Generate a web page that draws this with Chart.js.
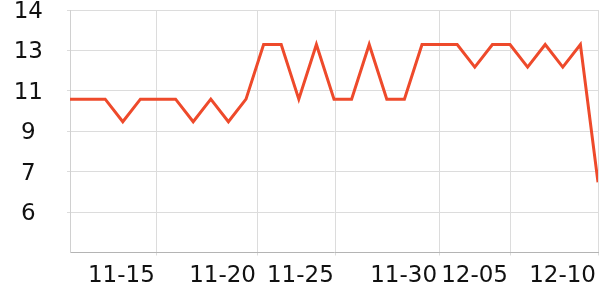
<!DOCTYPE html>
<html>
<head>
<meta charset="utf-8">
<script src="https://cdn.jsdelivr.net/npm/chart.js@4"></script>
<style>
  html, body { margin: 0; padding: 0; background: #fff; }
  #wrap { width: 600px; height: 300px; }
</style>
</head>
<body>
<div id="wrap"><canvas id="grafico"></canvas></div>
<script>
// values, one per point (evenly spaced)
const valores = [10.5, 10.5, 10.5, 9.55, 10.5, 10.5, 10.5, 9.55, 10.5, 9.55,
                 10.5, 12.8, 12.8, 10.5, 12.8, 10.5, 10.5, 12.8, 10.5, 10.5,
                 12.8, 12.8, 12.8, 11.85, 12.8, 12.8, 11.85, 12.8, 11.85, 12.8,
                 7.0];

// x tick positions (in point index units) and their date labels
const posDatas = [4.93, 10.68, 15.1, 20.97, 25, 30];
const rotulosDatas = ['11-15', '11-20', '11-25', '11-30', '12-05', '12-10'];

// y ticks (uneven labels on an even grid)
const posY = [14.25, 12.55, 10.85, 9.15, 7.45, 5.75];
const rotulosY = ['14', '13', '11', '9', '7', '6'];

const pontos = valores.map((v, i) => ({ x: i, y: v }));

const fonte = { family: 'DejaVu Sans', size: 23 };

new Chart(document.getElementById('grafico').getContext('2d'), {
    type: 'line',
    data: {
        datasets: [{
            data: pontos,
            borderColor: '#ee4a2b',
            borderWidth: 3,
            pointRadius: 0,
            tension: 0,
            fill: false
        }]
    },
    options: {
        responsive: true,
        maintainAspectRatio: false,
        animation: false,
        layout: { padding: 0 },
        plugins: { legend: { display: false }, tooltip: { enabled: false } },
        scales: {
            x: {
                type: 'linear',
                min: 0,
                max: 30,
                afterBuildTicks: s => { s.ticks = posDatas.map(v => ({ value: v })); },
                afterFit: s => {
                    s.height = 47.5;
                    s.paddingLeft = 0;
                    s.paddingRight = 2;
                },
                grid: { color: '#dcdcdc', tickLength: 3 },
                border: { color: '#b4b4b4' },
                ticks: {
                    autoSkip: false,
                    maxRotation: 0,
                    align: 'end',
                    labelOffset: -2,
                    padding: 7,
                    color: '#111',
                    font: fonte,
                    callback: (v, i) => rotulosDatas[i]
                }
            },
            y: {
                min: 4.05,
                max: 14.25,
                afterBuildTicks: s => { s.ticks = posY.map(v => ({ value: v })); },
                afterFit: s => {
                    s.width = 70;
                    s.paddingTop = 10;
                    s.paddingBottom = 0;
                },
                grid: { color: '#dcdcdc', tickLength: 3 },
                border: { color: '#d0d0d0' },
                ticks: {
                    crossAlign: 'center',
                    padding: 24,
                    labelOffset: 2,
                    color: '#111',
                    font: fonte,
                    callback: (v, i) => rotulosY[i]
                }
            }
        }
    }
});
</script>
</body>
</html>
